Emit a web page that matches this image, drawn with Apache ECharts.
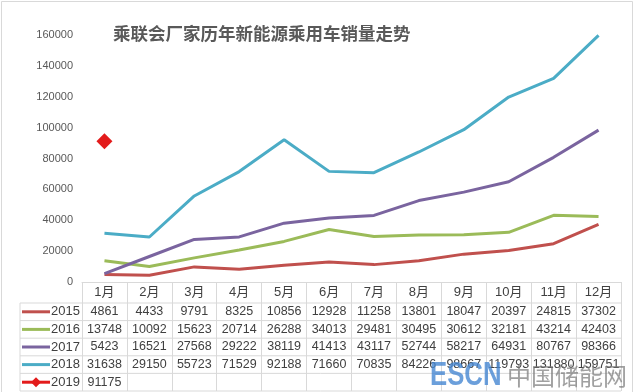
<!DOCTYPE html>
<html><head><meta charset="utf-8">
<script src="https://cdn.jsdelivr.net/npm/echarts@6/dist/echarts.min.js"></script>
<style>html,body{margin:0;padding:0;background:#fff}#c{width:636px;height:392px}</style>
</head><body><div id="c"></div>
<script>
const titleText = '乘联会厂家历年新能源乘用车销量走势';
const months = ['1月','2月','3月','4月','5月','6月','7月','8月','9月','10月','11月','12月'];
const years = ['2015','2016','2017','2018','2019'];
const s2015 = [4861,4433,9791,8325,10856,12928,11258,13801,18047,20397,24815,37302];
const s2016 = [13748,10092,15623,20714,26288,34013,29481,30495,30612,32181,43214,42403];
const s2017 = [5423,16521,27568,29222,38119,41413,43117,52744,58217,64931,80767,98366];
const s2018 = [31638,29150,55723,71529,92188,71660,70835,84226,98667,119793,131880,159751];
const s2019 = [91175];
const yMin = 0, yMax = 160000, yStep = 20000;

const seriesData = [s2015, s2016, s2017, s2018, s2019];
const colors = ['#c0504d','#9bbb59','#7a649f','#4bacc6','#e31b1b'];

const gridL = 82, gridR = 15, gridT = 35, gridB = 110;
const W = 636, H = 392;
const axisY = H - gridB;           // 282
const headH = 21, rowH = 17.6;
const labelColL = 20;
const tableRight = W - gridR;

const tableRows = seriesData.map(arr => months.map((m, i) => arr[i] === undefined ? '' : String(arr[i])));

const xAxes = [{
  type: 'category', data: months, position: 'bottom', boundaryGap: true,
  axisLine: { show: true, lineStyle: { color: '#d9d9d9', width: 1 } },
  axisTick: { show: true, length: headH + rowH * 5, lineStyle: { color: '#d9d9d9' } },
  axisLabel: { interval: 0, margin: headH / 2, verticalAlign: 'middle', fontSize: 13, color: '#404040', fontFamily: 'Liberation Sans, Noto Sans CJK SC' }
}];
tableRows.forEach((vals, i) => {
  xAxes.push({
    type: 'category', data: vals, position: 'bottom', offset: headH + i * rowH, boundaryGap: true,
    axisLine: { show: false }, axisTick: { show: false }, splitLine: { show: false },
    axisLabel: { interval: 0, hideOverlap: false, margin: rowH / 2, verticalAlign: 'middle', fontSize: 12.5, color: '#404040', fontFamily: 'Liberation Sans' }
  });
});

const graphics = [];
graphics.push({ type: 'rect', shape: { x: 1.5, y: 1.5, width: 631, height: 400 }, style: { fill: 'none', stroke: '#d9d9d9', lineWidth: 1 }, silent: true });
for (let i = 0; i <= 5; i++) {
  const y = axisY + headH + i * rowH;
  graphics.push({ type: 'line', shape: { x1: labelColL, y1: y, x2: tableRight, y2: y }, style: { stroke: '#d9d9d9', lineWidth: 1 }, silent: true });
}
graphics.push({ type: 'line', shape: { x1: labelColL, y1: axisY + headH, x2: labelColL, y2: axisY + headH + 5 * rowH }, style: { stroke: '#d9d9d9', lineWidth: 1 }, silent: true });
years.forEach((y, i) => {
  const cy = axisY + headH + i * rowH + rowH / 2;
  graphics.push({ type: 'line', shape: { x1: 22, y1: cy, x2: 50, y2: cy }, style: { stroke: colors[i], lineWidth: 3 }, silent: true });
  if (i === 4) {
    graphics.push({ type: 'polygon', shape: { points: [[36, cy - 5], [41, cy], [36, cy + 5], [31, cy]] }, style: { fill: colors[i] }, silent: true });
  }
  graphics.push({ type: 'text', x: 51, y: cy, style: { text: y, fontSize: 13, fill: '#404040', fontFamily: 'Liberation Sans', verticalAlign: 'middle', align: 'left' }, silent: true });
});
graphics.push({ type: 'text', x: 430, y: 376, scaleX: 0.78, style: { text: 'ESCN', fontSize: 33, fontWeight: 'bold', fill: 'rgba(70,135,210,0.8)', fontFamily: 'Liberation Sans', verticalAlign: 'middle' }, silent: true, z: 100 });
graphics.push({ type: 'text', x: 507, y: 376, style: { text: '中国储能网', fontSize: 24, fill: 'rgba(120,120,120,0.7)', fontFamily: 'Noto Sans CJK SC', verticalAlign: 'middle' }, silent: true, z: 100 });

const series = seriesData.map((d, i) => ({
  name: years[i], type: 'line', data: d,
  xAxisIndex: 0, yAxisIndex: 0,
  showSymbol: i === 4, symbol: 'diamond', symbolSize: 16,
  lineStyle: { width: 3, color: colors[i] },
  itemStyle: { color: colors[i] },
  emphasis: { disabled: true }, animation: false
}));

const chart = echarts.init(document.getElementById('c'), null, { renderer: 'canvas' });
chart.setOption({
  animation: false,
  backgroundColor: '#fff',
  title: { text: titleText, left: 108, top: 20, textStyle: { fontSize: 17.5, fontWeight: 'bold', color: '#595959', fontFamily: 'Noto Sans CJK SC' } },
  grid: { left: gridL, right: gridR, top: gridT, bottom: gridB, containLabel: false },
  xAxis: xAxes,
  yAxis: {
    type: 'value', min: yMin, max: yMax, interval: yStep,
    axisLine: { show: false }, axisTick: { show: false }, splitLine: { show: false },
    axisLabel: { margin: 9, fontSize: 11, color: '#595959', fontFamily: 'Liberation Sans', formatter: v => String(v) }
  },
  series: series,
  graphic: graphics
});
</script></body></html>
